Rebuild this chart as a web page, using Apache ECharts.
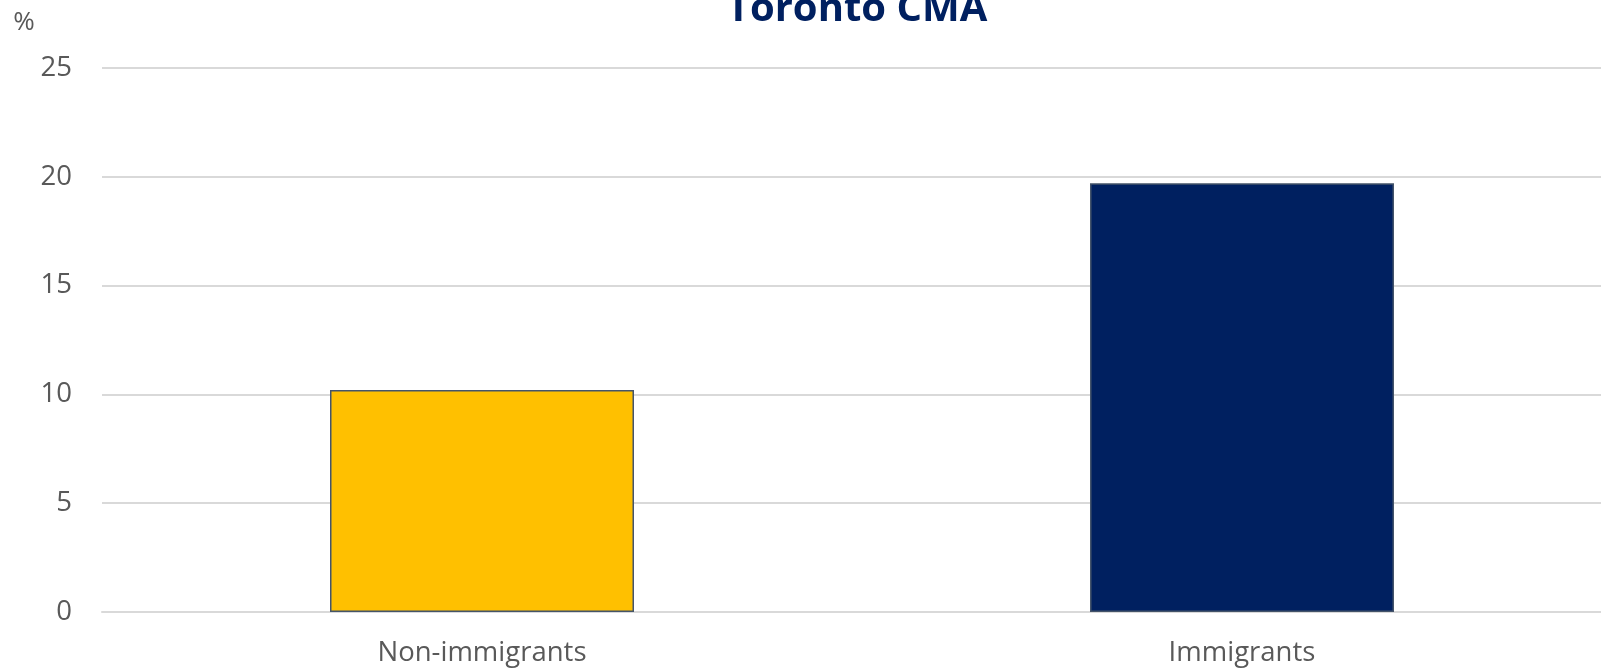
<!DOCTYPE html>
<html>
<head>
<meta charset="utf-8">
<title>Toronto CMA</title>
<script src="https://cdn.jsdelivr.net/npm/echarts@6/dist/echarts.min.js"></script>
<style>
  html, body { margin: 0; padding: 0; background: #ffffff; overflow: hidden; }
  #chart { width: 1601px; height: 670px; }
</style>
</head>
<body>
<div id="chart"></div>
<script>
// Share of population, by immigrant status
const categories = ['Non-immigrants', 'Immigrants'];
const values = [10.2, 19.7];
const barColors = ['#FFC000', '#002060'];
const titleText = 'Toronto CMA';
const unitText = '%';

const chart = echarts.init(document.getElementById('chart'));
const font = '"Open Sans", "Noto Sans", sans-serif';

chart.setOption({
  animation: false,
  backgroundColor: '#ffffff',
  // plot area runs slightly past the right edge of the canvas
  grid: {
    left: 102, width: 1520, top: 68, bottom: 58,
    containLabel: false, outerBoundsMode: 'none'
  },
  graphic: [
    {
      type: 'text', x: 857, y: 30,
      style: {
        text: titleText, fill: '#002060', font: 'bold 40px ' + font,
        textAlign: 'center', textVerticalAlign: 'bottom'
      }
    },
    {
      type: 'text', x: 24, y: 23,
      style: {
        text: unitText, fill: '#595959', font: '26px ' + font,
        textAlign: 'center', textVerticalAlign: 'middle'
      }
    }
  ],
  xAxis: {
    type: 'category',
    data: categories,
    axisLine: { show: true, lineStyle: { color: '#d9d9d9', width: 2 } },
    axisTick: { show: false },
    axisLabel: { color: '#595959', fontSize: 27.5, fontFamily: font, margin: 27 }
  },
  yAxis: {
    type: 'value',
    min: 0, max: 25, interval: 5,
    axisLine: { show: false },
    axisTick: { show: false },
    axisLabel: { color: '#595959', fontSize: 27.5, fontFamily: font, margin: 30 },
    splitLine: { lineStyle: { color: '#d9d9d9', width: 2 } }
  },
  series: [{
    type: 'bar',
    barWidth: '40%',
    data: values.map((v, i) => ({
      value: v,
      itemStyle: { color: barColors[i], borderColor: '#44546A', borderWidth: 1.5 }
    }))
  }]
});
</script>
</body>
</html>
